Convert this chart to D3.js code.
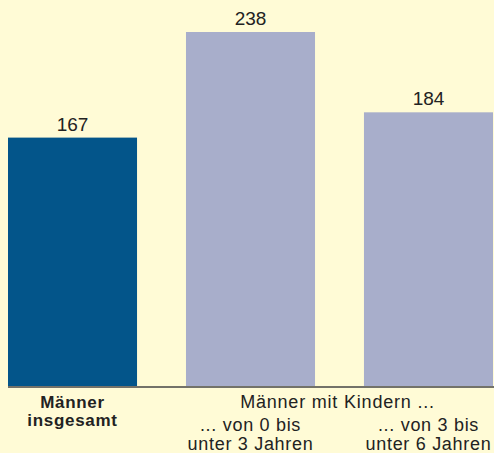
<!DOCTYPE html>
<html>
<head>
<meta charset="utf-8">
<script src="https://cdn.jsdelivr.net/npm/d3@7"></script>
<style>
  body { margin: 0; background: #fffbd6; }
  text { font-family: "Liberation Sans", Arial, sans-serif; fill: #222; }
</style>
</head>
<body>
<script>
// data
var categories = ["insgesamt", "0-3", "3-6"];
var values = [167, 238, 184];
var categoryLabels = [["Männer", "insgesamt"], ["... von 0 bis", "unter 3 Jahren"], ["... von 3 bis", "unter 6 Jahren"]];
var groupLabel = "Männer mit Kindern ...";

var svgWidth = 494;
var svgHeight = 453;
var baseY = 386;

var svg = d3.select("body").append("svg")
    .attr("width", svgWidth)
    .attr("height", svgHeight);

svg.append("rect")
    .attr("width", svgWidth)
    .attr("height", svgHeight)
    .attr("fill", "#fffbd6");

// scales
var x = d3.scaleBand()
    .domain(categories)
    .range([8, 493])
    .paddingInner(0.275)
    .paddingOuter(0);

var y = d3.scaleLinear()
    .domain([0, 238])
    .range([baseY, 32]);

// bars
svg.selectAll("rect.bar")
    .data(values)
    .enter()
    .append("rect")
    .attr("class", "bar")
    .attr("x", (d, i) => x(categories[i]))
    .attr("y", d => y(d))
    .attr("width", x.bandwidth())
    .attr("height", d => y(0) - y(d))
    .attr("fill", (d, i) => i == 0 ? "#03558a" : "#a8aecb");

// value labels
svg.selectAll("text.value")
    .data(values)
    .enter()
    .append("text")
    .attr("class", "value")
    .attr("x", (d, i) => x(categories[i]) + x.bandwidth() / 2)
    .attr("y", d => y(d) - 7)
    .attr("text-anchor", "middle")
    .style("font-size", "19px")
    .text(d => d);

// baseline
svg.append("line")
    .attr("x1", 8)
    .attr("x2", svgWidth)
    .attr("y1", y(0) + 1)
    .attr("y2", y(0) + 1)
    .attr("stroke", "#444")
    .attr("stroke-width", 1.5);

// category labels (one text per category, lines as tspans)
categoryLabels.forEach((lines, i) => {
    var cx = x(categories[i]) + x.bandwidth() / 2;
    var top = i == 0 ? 408 : 431;
    var label = svg.append("text")
        .attr("text-anchor", "middle")
        .style("font-size", i == 0 ? "17px" : "18px")
        .style("letter-spacing", "0.7px")
        .style("font-weight", i == 0 ? "bold" : "normal");
    lines.forEach((t, j) => {
        label.append("tspan")
            .attr("x", cx)
            .attr("y", top + j * (i == 0 ? 18 : 19))
            .text(t);
    });
});

svg.append("text")
    .attr("x", (x(categories[1]) + x(categories[2]) + x.bandwidth()) / 2 - 2)
    .attr("y", 408)
    .attr("text-anchor", "middle")
    .style("font-size", "18px")
    .style("letter-spacing", "0.8px")
    .text(groupLabel);
</script>
</body>
</html>
